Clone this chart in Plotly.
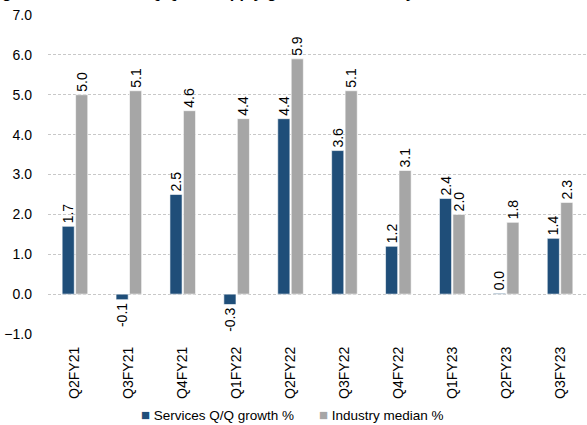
import plotly.graph_objects as go

quarters = ["Q2FY21", "Q3FY21", "Q4FY21", "Q1FY22", "Q2FY22",
            "Q3FY22", "Q4FY22", "Q1FY23", "Q2FY23", "Q3FY23"]
services_qq = [1.7, -0.14, 2.5, -0.26, 4.4, 3.6, 1.2, 2.4, 0.02, 1.4]
industry_median = [5.0, 5.1, 4.6, 4.4, 5.9, 5.1, 3.1, 2.0, 1.8, 2.3]
series_names = ["Services Q/Q growth %", "Industry median %"]
y_ticks = [-1, 0, 1, 2, 3, 4, 5, 6, 7]

FONT = "Liberation Sans, Arial, sans-serif"
BLUE = "#1F4E79"
GREY = "#A6A6A6"
colors = [BLUE, GREY]

PW = 539  # plot width in px
PH = 319  # plot height in px

fig = go.Figure()
for name, vals, col in [(series_names[0], services_qq, BLUE),
                        (series_names[1], industry_median, GREY)]:
    fig.add_trace(go.Bar(
        x=quarters, y=vals, name=name,
        marker=dict(color=col, line=dict(color="rgba(255,255,255,0.6)", width=1)),
        texttemplate="%{y:.1f}", textposition="outside", textangle=-90,
        textfont=dict(family=FONT, size=14, color="#000000"),
        constraintext="none", cliponaxis=False,
    ))

fig.update_layout(
    width=587, height=425,
    margin=dict(l=48, r=0, t=15, b=91),
    paper_bgcolor="white", plot_bgcolor="white",
    barmode="group", bargap=0.5, bargroupgap=0.1,
    font=dict(family=FONT, size=14, color="#000000"),
    showlegend=False,
)
fig.update_xaxes(
    tickangle=-90, showgrid=False, showline=False, ticks="",
    tickfont=dict(family=FONT, size=14), ticklabelstandoff=9,
)
fig.update_yaxes(
    range=[-1, 7], tickvals=y_ticks, tickformat=".1f",
    showgrid=True, gridcolor="#C8C8C8", griddash="3px,2px", gridwidth=1,
    zeroline=False, showline=False, ticks="",
    tickfont=dict(family=FONT, size=14), ticklabelstandoff=15,
)

# legend drawn as text entries
for name, col, px in [(series_names[0], colors[0], 139), (series_names[1], colors[1], 317)]:
    fig.add_annotation(
        text=f"<span style='color:{col};font-size:15px'>■</span> {name}",
        xref="paper", yref="paper", x=(px - 48) / PW, y=(334 - 415) / PH,
        xanchor="left", yanchor="middle", showarrow=False,
        font=dict(family=FONT, size=13.5, color="#000000"),
    )

fig.add_annotation(
    text="<b>growth in Services Q/Q vs. Supply growth vs. industry</b>",
    xref="paper", yref="paper", x=-48 / PW, y=(PH + 12.5) / PH,
    xanchor="left", yanchor="bottom", showarrow=False,
    font=dict(family=FONT, size=16, color="#000000"),
)

fig.write_html("out.html")
